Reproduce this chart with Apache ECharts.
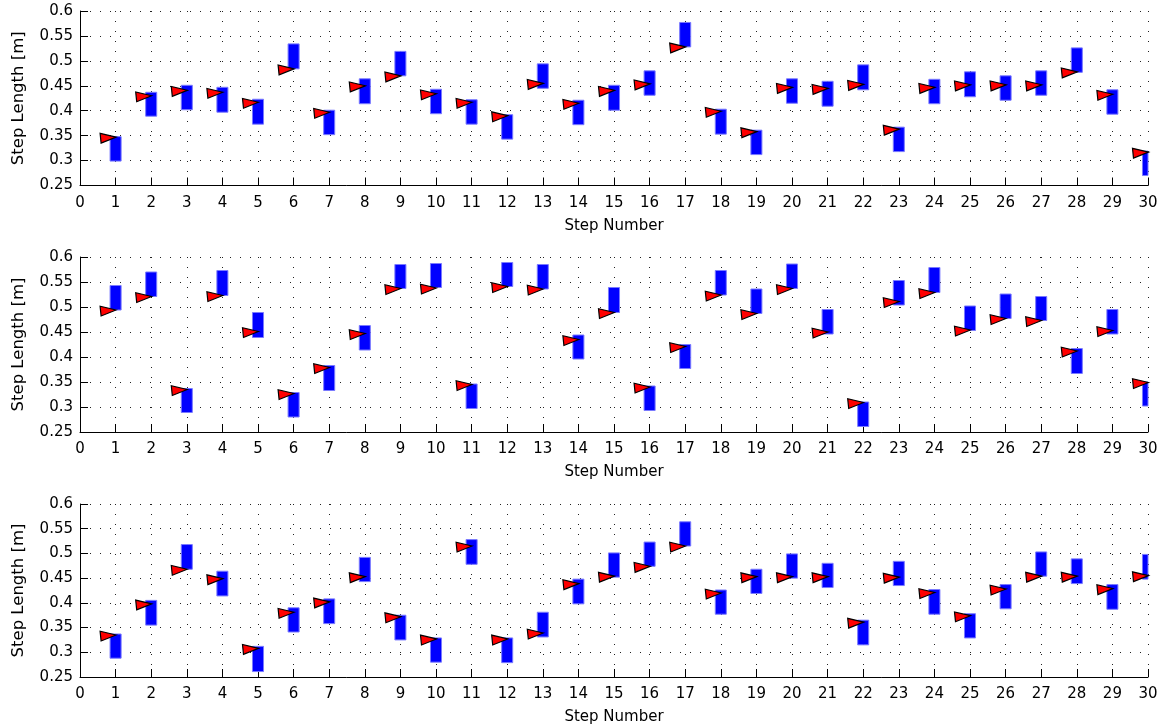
<!DOCTYPE html>
<html><head><meta charset="utf-8">
<script src="https://cdn.jsdelivr.net/npm/echarts@6/dist/echarts.min.js"></script>
<style>html,body{margin:0;padding:0;background:#fff}#c{width:1163px;height:726px}</style>
</head><body><div id="c"></div>
<script>
// Step numbers (x axis)
const steps = [1,2,3,4,5,6,7,8,9,10,11,12,13,14,15,16,17,18,19,20,21,22,23,24,25,26,27,28,29,30];

// Subplot 1: triangle values, bar bottom, bar top
const tri1 = [0.347,0.430,0.441,0.437,0.417,0.484,0.397,0.450,0.470,0.434,0.417,0.390,0.455,0.415,0.441,0.454,0.528,0.399,0.358,0.447,0.445,0.453,0.363,0.447,0.452,0.452,0.452,0.478,0.433,0.317];
const lo1  = [0.299,0.389,0.402,0.397,0.373,0.484,0.352,0.414,0.470,0.394,0.373,0.343,0.445,0.372,0.401,0.431,0.528,0.353,0.312,0.415,0.409,0.442,0.318,0.414,0.428,0.421,0.431,0.477,0.393,0.270];
const hi1  = [0.348,0.437,0.451,0.447,0.423,0.534,0.401,0.464,0.519,0.443,0.422,0.392,0.494,0.421,0.451,0.480,0.577,0.403,0.361,0.464,0.459,0.492,0.367,0.463,0.478,0.470,0.480,0.526,0.442,0.319];

// Subplot 2
const tri2 = [0.494,0.521,0.335,0.523,0.451,0.327,0.379,0.447,0.537,0.538,0.345,0.541,0.536,0.435,0.489,0.340,0.421,0.524,0.487,0.537,0.450,0.309,0.511,0.529,0.454,0.477,0.473,0.412,0.453,0.349];
const lo2  = [0.494,0.521,0.289,0.523,0.439,0.280,0.333,0.414,0.537,0.539,0.297,0.541,0.536,0.396,0.489,0.293,0.377,0.524,0.487,0.537,0.446,0.261,0.504,0.529,0.453,0.477,0.473,0.367,0.446,0.302];
const hi2  = [0.543,0.570,0.337,0.573,0.489,0.329,0.383,0.463,0.585,0.587,0.346,0.589,0.585,0.444,0.539,0.342,0.425,0.573,0.536,0.586,0.495,0.310,0.553,0.579,0.502,0.526,0.521,0.417,0.495,0.350];

// Subplot 3
const tri3 = [0.335,0.398,0.468,0.449,0.308,0.381,0.402,0.453,0.372,0.327,0.515,0.327,0.339,0.439,0.454,0.474,0.515,0.420,0.453,0.453,0.453,0.361,0.452,0.421,0.374,0.428,0.454,0.454,0.429,0.455];
const lo3  = [0.288,0.355,0.468,0.414,0.261,0.341,0.358,0.443,0.325,0.280,0.478,0.279,0.331,0.398,0.452,0.474,0.515,0.377,0.419,0.450,0.431,0.315,0.435,0.377,0.329,0.388,0.454,0.439,0.387,0.448];
const hi3  = [0.337,0.405,0.518,0.464,0.312,0.390,0.408,0.492,0.375,0.329,0.528,0.329,0.381,0.448,0.501,0.523,0.564,0.426,0.468,0.499,0.480,0.365,0.484,0.427,0.378,0.437,0.503,0.489,0.437,0.498];

const yTicksMin = 0.25, yTicksMax = 0.6, yStep = 0.05;
const xMin = 0, xMax = 30, xStep = 1;

const FONT = '"DejaVu Sans", Verdana, sans-serif';
const chart = echarts.init(document.getElementById('c'), null, {renderer: 'canvas'});

const grids = [
  {left: 80, right: 15, top: 11, height: 174.5},
  {left: 80, right: 15, top: 257, height: 175},
  {left: 80, right: 15, top: 504, height: 174}
];

const gridLine = {show: true, lineStyle: {color: '#222', width: 1, type: [1, 9]}};

function xAxisFor(i) {
  return {
    type: 'value', gridIndex: i, min: xMin, max: xMax, interval: xStep,
    name: 'Step Number', nameLocation: 'middle', nameGap: 33,
    nameTextStyle: {fontFamily: FONT, fontSize: 15, color: '#000'},
    axisLine: {show: true, onZero: false, lineStyle: {color: '#000', width: 1}},
    axisTick: {show: true, inside: true, length: 8, lineStyle: {color: '#000'}},
    axisLabel: {fontFamily: FONT, fontSize: 15, color: '#000', margin: 10},
    splitLine: gridLine
  };
}
function yAxisFor(i) {
  return {
    type: 'value', gridIndex: i, min: yTicksMin, max: yTicksMax, interval: yStep,
    name: 'Step Length [m]', nameLocation: 'middle', nameGap: 53, nameRotate: 90,
    nameTextStyle: {fontFamily: FONT, fontSize: 16.5, color: '#000'},
    axisLine: {show: true, onZero: false, lineStyle: {color: '#000', width: 1}},
    axisTick: {show: true, inside: true, length: 8, lineStyle: {color: '#000'}},
    axisLabel: {fontFamily: FONT, fontSize: 15, color: '#000', margin: 7,
      formatter: v => String(Math.round(v * 100) / 100)},
    splitLine: gridLine
  };
}

function barItem(params, api) {
  const x = api.value(0), lo = api.value(1), hi = api.value(2);
  const pTop = api.coord([x, hi]);
  const pBot = api.coord([x, lo]);
  const w = api.size([0.31, 0])[0];
  const cs = params.coordSys;
  const rect = echarts.graphic.clipRectByRect(
    {x: pTop[0] - w / 2, y: pTop[1], width: w, height: pBot[1] - pTop[1]},
    {x: cs.x, y: cs.y, width: cs.width, height: cs.height});
  if (!rect) return;
  return {type: 'rect', shape: rect, style: {fill: '#0000ff', stroke: '#7a7aff', lineWidth: 1}};
}
function triItem(params, api) {
  const p = api.coord([api.value(0), api.value(1)]);
  const cx = p[0] + 0.5, cy = p[1];
  return {type: 'polygon', shape: {points: [[cx, cy], [cx - 16, cy - 3.8], [cx - 15, cy + 6]]},
    style: {fill: '#ff0000', stroke: '#000', lineWidth: 1.2, lineJoin: 'miter'}};
}

const sets = [[tri1, lo1, hi1], [tri2, lo2, hi2], [tri3, lo3, hi3]];
const series = [];
sets.forEach((s, i) => {
  series.push({
    type: 'custom', xAxisIndex: i, yAxisIndex: i, renderItem: barItem, z: 2,
    encode: {x: 0, y: [1, 2]},
    data: steps.map((st, k) => [st, s[1][k], s[2][k]])
  });
  series.push({
    type: 'custom', xAxisIndex: i, yAxisIndex: i, renderItem: triItem, z: 3,
    encode: {x: 0, y: 1},
    data: steps.map((st, k) => [st, s[0][k]])
  });
});

chart.setOption({
  animation: false,
  backgroundColor: '#fff',
  grid: grids,
  xAxis: [0, 1, 2].map(xAxisFor),
  yAxis: [0, 1, 2].map(yAxisFor),
  series: series
});
</script></body></html>
